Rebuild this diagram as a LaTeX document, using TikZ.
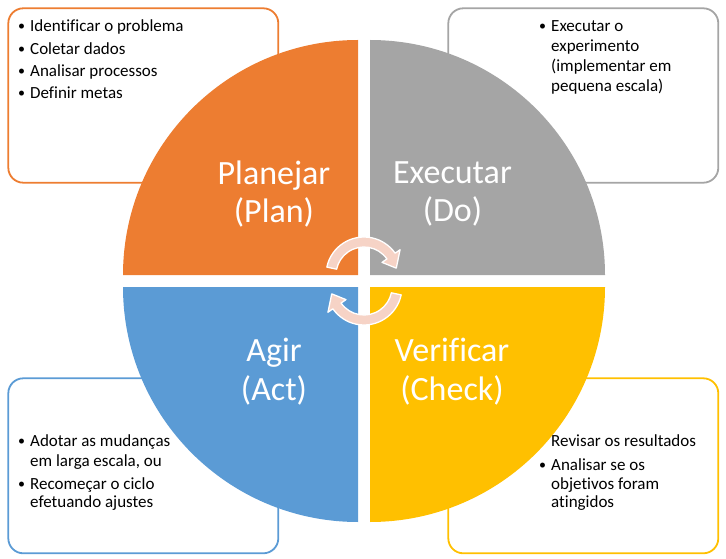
\documentclass[tikz,border=0pt]{standalone}
\usepackage{fontspec}
\setmainfont{Carlito}[Ligatures=NoCommon]
\definecolor{pdorange}{HTML}{ED7D31}
\definecolor{pdgray}{HTML}{A5A5A5}
\definecolor{pdblue}{HTML}{5B9BD5}
\definecolor{pdyellow}{HTML}{FFC000}
\definecolor{pdpink}{HTML}{F6D3C6}
\newcommand{\bul}{\llap{\raisebox{1pt}{\fontsize{14}{14}\selectfont\textbullet}\hspace{5pt}}}
\begin{document}
\begin{tikzpicture}[x=1pt,y=1pt,
  infobox/.style={line width=1.8pt, rounded corners=15pt, fill=white},
  lbl/.style={align=center, text=white, inner sep=0, font=\fontsize{34}{38.5}\selectfont},
  txt/.style={anchor=base west, inner sep=0, font=\fontsize{17}{20}\selectfont},
  cyc/.style={fill=pdpink, draw=white, line width=1.3pt, line join=round}]
\useasboundingbox (0,0) rectangle (726,-559);
% text boxes
\draw[infobox, draw=pdorange] (8.3,-8.3) rectangle (278.3,-182.7);
\draw[infobox, draw=pdgray] (448.3,-8.3) rectangle (718.3,-182.7);
\draw[infobox, draw=pdblue] (8.3,-378.3) rectangle (278.3,-553.3);
\draw[infobox, draw=pdyellow] (448.3,-378.3) rectangle (718.3,-553.3);
% quadrants
\fill[pdorange] (358,-275) -- (123,-275) arc[start angle=180, end angle=90, radius=235] -- cycle;
\fill[pdgray] (370,-275) -- (370,-40) arc[start angle=90, end angle=0, radius=235] -- cycle;
\fill[pdblue] (358,-287) -- (123,-287) arc[start angle=180, end angle=270, radius=235] -- cycle;
\fill[pdyellow] (370,-287) -- (605,-287) arc[start angle=0, end angle=-90, radius=235] -- cycle;
% labels
\node[lbl] (plan) at (274,-194) {Planejar\\(Plan)};
\node[lbl] (do) at (452.5,-194) {Executar\\(Do)};
\node[lbl] (act) at (274,-371.5) {Agir\\(Act)};
\node[lbl] (check) at (452,-371.5) {Verificar\\(Check)};
% cycle arrows
\coordinate (c1) at (364,-275);
\coordinate (c2) at (364,-287);
\draw[cyc] ([shift={(c1)}]168:38) arc[start angle=168, end angle=35, radius=38]
  -- ([shift={(c1)}]35:44) -- ([shift={(c1)}]12:33) -- ([shift={(c1)}]35:22)
  -- ([shift={(c1)}]35:28) arc[start angle=35, end angle=168, radius=28] -- cycle;
\draw[cyc] ([shift={(c2)}]348:38) arc[start angle=348, end angle=215, radius=38]
  -- ([shift={(c2)}]215:44) -- ([shift={(c2)}]192:33) -- ([shift={(c2)}]215:22)
  -- ([shift={(c2)}]215:28) arc[start angle=215, end angle=348, radius=28] -- cycle;
% top-left text
\node[txt] (tl1) at (30,-31.7) {\bul Identificar o problema};
\node[txt] (tl2) at (30,-54.5) {\bul Coletar dados};
\node[txt] (tl3) at (30,-76.8) {\bul Analisar processos};
\node[txt] (tl4) at (30,-99) {\bul Definir metas};
% top-right text
\node[txt] (tr1) at (551,-31.7) {\bul Executar o};
\node[txt] (tr2) at (551,-51.7) {experimento};
\node[txt] (tr3) at (551,-71.7) {(implementar em};
\node[txt] (tr4) at (551,-91.7) {pequena escala)};
% bottom-left text
\node[txt] (bl1) at (30,-446.5) {\bul Adotar as mudanças};
\node[txt] (bl2) at (30,-466) {em larga escala, ou};
\node[txt] (bl3) at (30,-489) {\bul Recomeçar o ciclo};
\node[txt] (bl4) at (30,-507.5) {efetuando ajustes};
% bottom-right text
\node[txt] (br1) at (551,-446.5) {Revisar os resultados};
\node[txt] (br2) at (551,-470) {\bul Analisar se os};
\node[txt] (br3) at (551,-489) {objetivos foram};
\node[txt] (br4) at (551,-507.5) {atingidos};
\end{tikzpicture}
\end{document}
